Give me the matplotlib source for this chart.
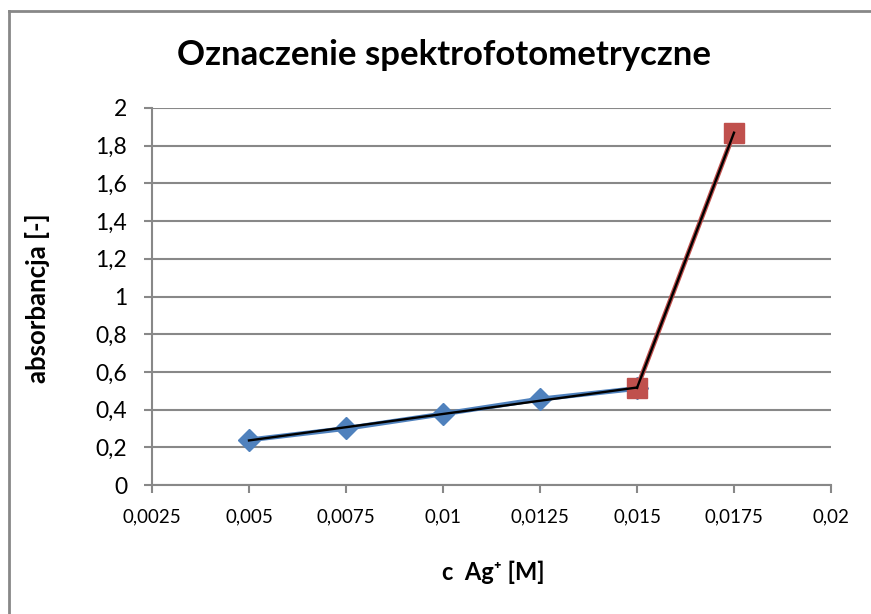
import matplotlib
matplotlib.use("Agg")
import matplotlib.pyplot as plt
from matplotlib.lines import Line2D
from matplotlib.ticker import FuncFormatter
import numpy as np

plt.rcParams['font.family'] = ['Lato', 'DejaVu Sans']

# data
c_lin = [0.005, 0.0075, 0.01, 0.0125, 0.015]
abs_lin = [0.239, 0.300, 0.377, 0.456, 0.512]
c_jump = [0.015, 0.0175]
abs_jump = [0.515, 1.869]

xticks = [0.0025, 0.005, 0.0075, 0.01, 0.0125, 0.015, 0.0175, 0.02]
yticks = [0, 0.2, 0.4, 0.6, 0.8, 1, 1.2, 1.4, 1.6, 1.8, 2]

W, H = 871, 614
fig = plt.figure(figsize=(W / 100, H / 100), dpi=100)
ax = fig.add_axes([152 / W, 1 - 485 / H, (831 - 152) / W, (485 - 108) / H])

grey = "#888888"
blue = "#4F81BD"
red = "#C0504D"

ax.plot(c_lin, abs_lin, "-", color=blue, lw=3.5, marker="D", ms=11,
        mec=blue, mfc=blue, zorder=3)
ax.plot(c_jump, abs_jump, "-", color=red, lw=3.5, marker="s", ms=15,
        mec=red, mfc=red, zorder=3)

# linear trend lines (black)
k1 = np.polyfit(c_lin, abs_lin, 1)
xs1 = np.array([c_lin[0], c_lin[-1]])
ax.plot(xs1, np.polyval(k1, xs1), color="black", lw=1.7, zorder=4)
k2 = np.polyfit(c_jump, abs_jump, 1)
xs2 = np.array(c_jump)
ax.plot(xs2, np.polyval(k2, xs2), color="black", lw=1.7, zorder=4)

ax.set_xlim(0.0025, 0.02)
ax.set_ylim(0, 2)
ax.set_xticks(xticks)
ax.set_yticks(yticks)


def comma(v, pos=None):
    s = ("%.4f" % v).rstrip("0").rstrip(".")
    return s.replace(".", ",")


ax.xaxis.set_major_formatter(FuncFormatter(comma))
ax.yaxis.set_major_formatter(FuncFormatter(comma))
ax.tick_params(axis="x", labelsize=13.5, length=6, width=1.5, color=grey, pad=11, direction="out")
ax.tick_params(axis="y", labelsize=16.5, length=6, width=1.5, color=grey, pad=12, direction="out")

ax.grid(axis="y", color=grey, lw=1.5)
ax.set_axisbelow(True)
for s in ["top", "right"]:
    ax.spines[s].set_visible(False)
for s in ["left", "bottom"]:
    ax.spines[s].set_color(grey)
    ax.spines[s].set_linewidth(1.5)

fig.text(444 / W, 1 - 55 / H, "Oznaczenie spektrofotometryczne", ha="center", va="center",
         fontsize=25, fontweight="bold")
fig.text(38 / W, 1 - 298 / H, "absorbancja [-]", rotation=90, ha="center", va="center",
         fontsize=18.5, fontweight="bold")
fig.text(493 / W, 1 - 572 / H, "c  Ag\u207a [M]", ha="center", va="center",
         fontsize=17, fontweight="bold")

# chart-area frame (right and bottom edges lie outside the picture)
fig.add_artist(Line2D([8.5 / W, 8.5 / W], [0, 1 - 10.5 / H], color=grey, lw=2))
fig.add_artist(Line2D([8.5 / W, 1], [1 - 10.5 / H, 1 - 10.5 / H], color=grey, lw=2))

fig.savefig("out.png", dpi=100)
